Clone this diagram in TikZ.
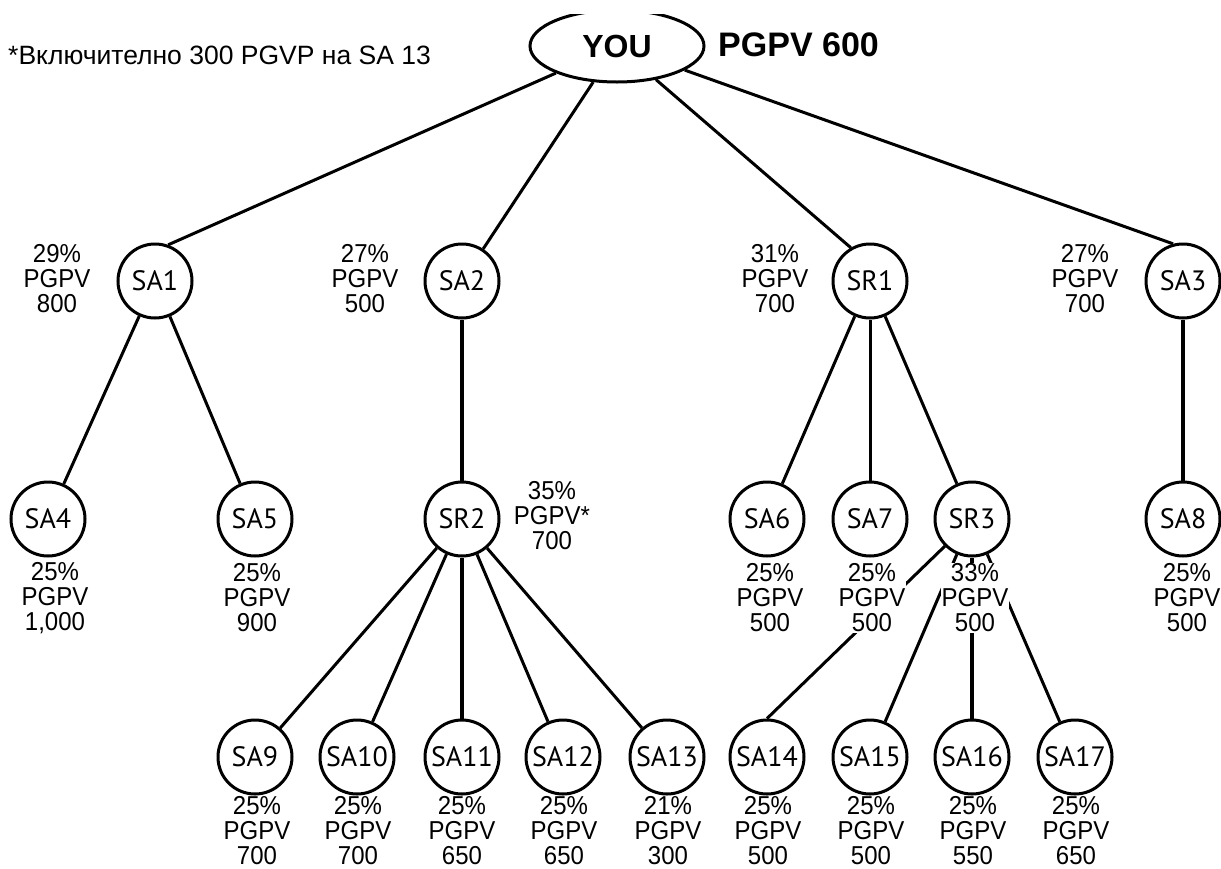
\documentclass[tikz,border=0pt]{standalone}
\usepackage{fontspec}
\usepackage{graphicx}
\setmainfont{Liberation Sans}
\newfontfamily\circfont{PT Sans}
\usetikzlibrary{shapes.geometric}
\newcommand\stt[1]{\scalebox{1}[1.08]{#1}}
\newcommand\lblthree[3]{\stt{#1}\\\stt{#2}\\\stt{#3}}
\begin{document}
\begin{tikzpicture}[x=1pt,y=-1pt,
  agent/.style={circle,draw,line width=3pt,fill=white,minimum size=74pt,inner sep=0pt,
    font=\circfont\fontsize{28}{28}\selectfont},
  lbl/.style={fill=white,inner sep=1pt,align=center,font=\fontsize{24}{25}\selectfont},
  link/.style={line width=3pt},
  heavy/.style={line width=4pt}]
\useasboundingbox (0,0) rectangle (1221,868);
\clip (0,14) rectangle (1221,870);
% top
\node[ellipse,draw,line width=3pt,fill=white,minimum width=174pt,minimum height=72pt,
  inner sep=0pt,font=\bfseries\fontsize{32}{32}\selectfont] (you) at (617,46) {YOU};
\node[anchor=west,inner sep=0pt,font=\bfseries\fontsize{34}{34}\selectfont] (tot) at (718,45) {PGPV 600};
\node[anchor=west,inner sep=0pt,font=\fontsize{26.5}{26.5}\selectfont] (note) at (8,55) {*Включително 300 PGVP на SA 13};
% row 1
\node[agent] (sa1) at (155,281) {SA1};
\node[agent] (sa2) at (462,281) {SA2};
\node[agent] (sr1) at (870,281) {SR1};
\node[agent] (sa3) at (1183,281) {SA3};
% row 2
\node[agent] (sa4) at (48,519) {SA4};
\node[agent] (sa5) at (255,519) {SA5};
\node[agent] (sr2) at (462,519) {SR2};
\node[agent] (sa6) at (767,519) {SA6};
\node[agent] (sa7) at (870,519) {SA7};
\node[agent] (sr3) at (972,519) {SR3};
\node[agent] (sa8) at (1183,519) {SA8};
% row 3
\node[agent] (sa9) at (255,757) {SA9};
\node[agent] (sa10) at (357,757) {SA10};
\node[agent] (sa11) at (462,757) {SA11};
\node[agent] (sa12) at (563,757) {SA12};
\node[agent] (sa13) at (667,757) {SA13};
\node[agent] (sa14) at (767,757) {SA14};
\node[agent] (sa15) at (870,757) {SA15};
\node[agent] (sa16) at (972,757) {SA16};
\node[agent] (sa17) at (1075,757) {SA17};
% connectors
\draw[link] (you) -- (sa1.70);
\draw[link] (you) -- (sa2);
\draw[link] (you) -- (sr1.120);
\draw[link] (you) -- (sa3.105);
\draw[link] (sa1) -- (sa4);
\draw[link] (sa1) -- (sa5);
\draw[heavy] (sa2) -- (sr2);
\draw[link] (sr1) -- (sa6);
\draw[link] (sr1) -- (sa7);
\draw[link] (sr1) -- (sr3);
\draw[heavy] (sa3) -- (sa8);
\draw[link] (sr2) -- (sa9);
\draw[link] (sr2) -- (sa10);
\draw[heavy] (sr2) -- (sa11);
\draw[link] (sr2) -- (sa12);
\draw[link] (sr2) -- (sa13);
\draw[link] (sr3.225) -- (sa14.north);
\draw[link] (sr3) -- (sa15);
\draw[heavy] (sr3) -- (sa16);
\draw[link] (sr3) -- (sa17);
% labels
\node[lbl] (l1) at (57,279) {\lblthree{29\%}{PGPV}{800}};
\node[lbl] (l2) at (365,279) {\lblthree{27\%}{PGPV}{500}};
\node[lbl] (l3) at (775,279) {\lblthree{31\%}{PGPV}{700}};
\node[lbl] (l4) at (1085,279) {\lblthree{27\%}{PGPV}{700}};
\node[lbl] (l5) at (55,598) {\lblthree{25\%}{PGPV}{1,000}};
\node[lbl] (l6) at (257,598) {\lblthree{25\%}{PGPV}{900}};
\node[lbl] (l7) at (552,516) {\lblthree{35\%}{PGPV*}{700}};
\node[lbl] (l8) at (770,598) {\lblthree{25\%}{PGPV}{500}};
\node[lbl] (l9) at (872,598) {\lblthree{25\%}{PGPV}{500}};
\node[lbl] (l10) at (975,598) {\lblthree{33\%}{PGPV}{500}};
\node[lbl] (l11) at (1187,598) {\lblthree{25\%}{PGPV}{500}};
\node[lbl] (l12) at (257,831) {\lblthree{25\%}{PGPV}{700}};
\node[lbl] (l13) at (358,831) {\lblthree{25\%}{PGPV}{700}};
\node[lbl] (l14) at (462,831) {\lblthree{25\%}{PGPV}{650}};
\node[lbl] (l15) at (564,831) {\lblthree{25\%}{PGPV}{650}};
\node[lbl] (l16) at (668,831) {\lblthree{21\%}{PGPV}{300}};
\node[lbl] (l17) at (768,831) {\lblthree{25\%}{PGPV}{500}};
\node[lbl] (l18) at (871,831) {\lblthree{25\%}{PGPV}{500}};
\node[lbl] (l19) at (973,831) {\lblthree{25\%}{PGPV}{550}};
\node[lbl] (l20) at (1076,831) {\lblthree{25\%}{PGPV}{650}};
\end{tikzpicture}
\end{document}
